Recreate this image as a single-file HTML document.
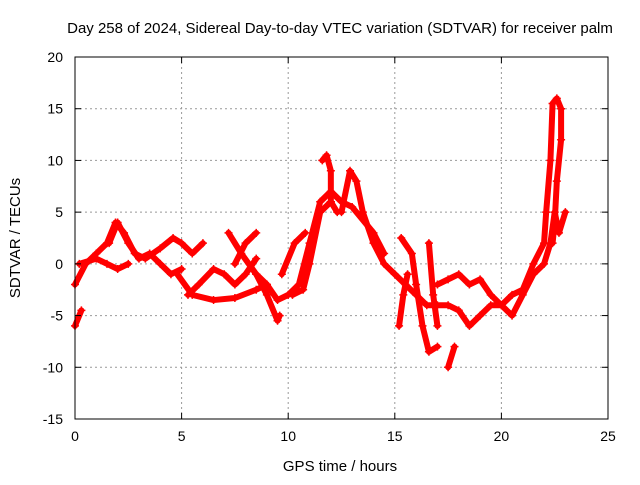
<!DOCTYPE html>
<html><head><meta charset="utf-8"><style>
body{margin:0;background:#fff;font-family:"Liberation Sans",sans-serif}
text{font-family:"Liberation Sans",sans-serif}
</style></head><body>
<svg id="c" width="640" height="480">
<text x="340" y="33" text-anchor="middle" font-size="15">Day 258 of 2024, Sidereal Day-to-day VTEC variation (SDTVAR) for receiver palm</text>
<text x="340" y="471" text-anchor="middle" font-size="15">GPS time / hours</text>
<text transform="translate(20,238) rotate(-90)" text-anchor="middle" font-size="15">SDTVAR / TECUs</text>
<g id="grid"></g><g id="series"></g><g id="axes"></g>
</svg>
<script>
const xTicks=[0,5,10,15,20,25];
const yTicks=[-15,-10,-5,0,5,10,15,20];
const trackA=[[0,-2],[0.5,0],[1,1],[1.5,2],[1.9,4],[2.3,3],[2.8,1],[3.3,0.5],[4,1.5],[4.6,2.5],[5,2],[5.5,1],[6,2]];
const trackB=[[1.6,2],[2,4],[2.5,2],[3,0.5],[3.5,1],[4,0],[4.5,-1],[5,-0.5]];
const trackC=[[0,-6],[0.3,-4.5]];
const trackD=[[0.2,0],[1,0.5],[1.5,0],[2,-0.5],[2.5,0]];
const trackE=[[4.8,-1],[5.5,-3],[6.5,-3.5],[7.5,-3.3],[8.5,-2.5],[9,-2]];
const trackF=[[5.3,-3],[5.8,-2],[6.5,-0.5],[7,-1],[7.5,-2],[8,-1],[8.5,0.5]];
const trackG=[[7.2,3],[7.8,1],[8.5,-1],[9,-3],[9.5,-5.5],[9.6,-5]];
const trackH=[[7.5,0],[8,2],[8.5,3]];
const trackI=[[8.5,-1],[9,-2],[9.5,-3.5],[10,-3],[10.5,-2],[11,2],[11.5,6],[12,7],[12.5,6],[13,5.5],[14,3],[14.5,1]];
const trackJ=[[9.7,-1],[10.3,2],[10.8,3]];
const trackK=[[10.2,-3],[10.7,-2.5],[11,0],[11.5,5],[12,6],[12.3,5]];
const trackL=[[11.6,10],[11.8,10.5],[12,9],[12,6]];
const trackM=[[12.5,5],[12.9,9],[13.2,8],[13.5,5],[14,2],[14.5,0],[15,-1],[15.5,-2],[16,-3],[16.5,-4],[17,-4],[17.5,-4],[18,-4.5],[18.5,-6],[19,-5],[19.5,-4],[20,-4],[20.5,-5],[21,-3],[21.5,-1],[22,0],[22.3,2],[22.5,5],[22.7,3],[23,5]];
const trackN=[[15.3,2.5],[15.8,1],[16,-2],[16.3,-6],[16.6,-8.5],[17,-8]];
const trackO=[[16.6,2],[16.8,-3],[17,-6]];
const trackP=[[17.5,-10],[17.8,-8]];
const trackQ=[[17,-2],[17.5,-1.5],[18,-1],[18.5,-2],[19,-1.5],[19.5,-3],[20,-4],[20.5,-3],[21,-2.5],[21.5,0],[22,2],[22.1,5],[22.3,10],[22.4,15.5],[22.6,16],[22.8,15],[22.8,12],[22.6,8],[22.5,4],[22.4,2]];
const trackR=[[15.2,-6],[15.4,-3],[15.6,-1]];
const tracks=[trackA,trackB,trackC,trackD,trackE,trackF,trackG,trackH,trackI,trackJ,trackK,trackL,trackM,trackN,trackO,trackP,trackQ,trackR];
const X0=75,X1=608,Y0=419,Y1=57;
const xs=v=>X0+(v-0)/25*(X1-X0);
const ys=v=>Y0-(v+15)/35*(Y0-Y1);
const NS="http://www.w3.org/2000/svg";
function mk(t,a,p){const e=document.createElementNS(NS,t);for(const k in a)e.setAttribute(k,a[k]);p.appendChild(e);return e;}
const grid=document.getElementById('grid'),axes=document.getElementById('axes'),ser=document.getElementById('series');
xTicks.forEach(t=>{const x=xs(t);
 if(t>0&&t<25){const l=mk('line',{x1:x,x2:x,y1:Y0,y2:Y1,stroke:'#999','stroke-dasharray':'2,3'},grid);}
 const tl=mk('text',{x:x,y:Y0+22,'text-anchor':'middle','font-size':'14'},axes);tl.textContent=t;
 
 mk('line',{x1:x,x2:x,y1:Y0,y2:Y0-6,stroke:'#000'},axes);mk('line',{x1:x,x2:x,y1:Y1,y2:Y1+6,stroke:'#000'},axes);});
yTicks.forEach(t=>{const y=ys(t);
 if(t>-15&&t<20){const l=mk('line',{x1:X0,x2:X1,y1:y,y2:y,stroke:'#999','stroke-dasharray':'2,3'},grid);}
 const tl=mk('text',{x:X0-12,y:y+5,'text-anchor':'end','font-size':'14'},axes);tl.textContent=t;
 
 mk('line',{x1:X0,x2:X0+6,y1:y,y2:y,stroke:'#000'},axes);mk('line',{x1:X1,x2:X1-6,y1:y,y2:y,stroke:'#000'},axes);});
const fr=mk('rect',{x:X0,y:Y1,width:X1-X0,height:Y0-Y1,fill:'none',stroke:'#000'},axes);

tracks.forEach(tr=>{
 const p=mk('polyline',{points:tr.map(d=>xs(d[0])+','+ys(d[1])).join(' '),fill:'none',stroke:'#f00','stroke-width':'6','stroke-linejoin':'round','stroke-linecap':'round'},ser);
 
 
 tr.forEach(d=>{const x=xs(d[0]),y=ys(d[1]);
  const m=mk('path',{d:`M${x-4},${y}H${x+4}M${x},${y-4}V${y+4}`,stroke:'#f00','stroke-width':'1.5'},ser);
  
  });
});
</script>
</body></html>
